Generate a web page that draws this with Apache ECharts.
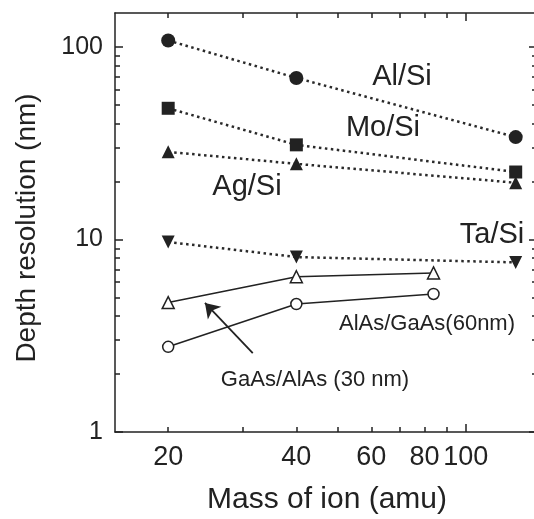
<!DOCTYPE html>
<html><head><meta charset="utf-8">
<script src="https://cdn.jsdelivr.net/npm/echarts@6/dist/echarts.min.js"></script>
<style>html,body{margin:0;padding:0;background:#fff}#c{width:534px;height:519px}</style>
</head><body><div id="c"></div>
<script>
// ---- data ----
const ionMass = [20, 40, 131];
const ionMassGaAs = [20, 40, 84];
const alSi = [108, 69, 34];
const moSi = [48, 31, 22.4];
const agSi = [28.5, 24.7, 19.7];
const taSi = [9.7, 8.1, 7.6];
const gaAsAlAs30 = [4.7, 6.4, 6.7];
const alAsGaAs60 = [2.77, 4.62, 5.21];
const xLabelTicks = [20, 40, 60, 80, 100];
const xMinorTicks = [20, 30, 40, 50, 60, 70, 80, 90];
const xMajorTicks = [100];
const yLabelTicks = [1, 10, 100];
const yMinorTicks = [2, 3, 4, 5, 6, 7, 8, 9, 20, 30, 40, 50, 60, 70, 80, 90];
const yMajorTicks = [1, 10, 100];
const arrowFrom = [31.6, 2.57];
const arrowTo = [24.4, 4.68];

const INK = '#222';
const FONT = '"Liberation Sans", Arial, Helvetica, sans-serif';
const XMIN = 15, XMAX = 147, YMIN = 1, YMAX = 150;

function pairs(xs, ys) { return xs.map((x, i) => [x, ys[i]]); }

function xAxis(position, ticks, len, labels, showLine) {
  return {
    type: 'log', logBase: 10, min: XMIN, max: XMAX, position: position,
    axisLine: { show: showLine, onZero: false, lineStyle: { color: INK, width: 1.5 } },
    axisTick: { show: true, inside: true, length: len, customValues: ticks, lineStyle: { color: INK, width: 1.5 } },
    minorTick: { show: false },
    axisLabel: labels ? { show: true, customValues: labels, color: INK, fontSize: 27, fontFamily: FONT, margin: 12, hideOverlap: false } : { show: false },
    splitLine: { show: false }
  };
}
function yAxis(position, ticks, len, labels, showLine) {
  return {
    type: 'log', logBase: 10, min: YMIN, max: YMAX, position: position,
    axisLine: { show: showLine, onZero: false, lineStyle: { color: INK, width: 1.5 } },
    axisTick: { show: true, inside: true, length: len, customValues: ticks, lineStyle: { color: INK, width: 1.5 } },
    minorTick: { show: false },
    axisLabel: labels ? { show: true, customValues: labels, color: INK, fontSize: 25, fontFamily: FONT, margin: 12 } : { show: false },
    splitLine: { show: false }
  };
}

const dotted = { color: '#2a2a2a', width: 2.5, type: [2.5, 3.5] };
const solid = { color: INK, width: 1.6, type: 'solid' };

const chart = echarts.init(document.getElementById('c'), null, { renderer: 'canvas' });
chart.setOption({
  animation: false,
  backgroundColor: '#fff',
  grid: { left: 115, top: 13, width: 422, height: 419, outerBoundsMode: 'none', containLabel: false },
  xAxis: [
    xAxis('bottom', xMajorTicks, 8, xLabelTicks, true),
    xAxis('bottom', xMinorTicks, 5, null, false),
    xAxis('top', xMajorTicks, 8, null, true),
    xAxis('top', xMinorTicks, 5, null, false)
  ],
  yAxis: [
    yAxis('left', yMajorTicks, 8, yLabelTicks, true),
    yAxis('left', yMinorTicks, 5, null, false),
    yAxis('right', yMajorTicks, 8, null, true),
    yAxis('right', yMinorTicks, 5, null, false)
  ],
  series: [
    { name: 'Al/Si', type: 'line', data: pairs(ionMass, alSi), symbol: 'circle', symbolSize: 14,
      itemStyle: { color: INK }, lineStyle: dotted },
    { name: 'Mo/Si', type: 'line', data: pairs(ionMass, moSi), symbol: 'rect', symbolSize: 13,
      itemStyle: { color: INK }, lineStyle: dotted },
    { name: 'Ag/Si', type: 'line', data: pairs(ionMass, agSi), symbol: 'triangle', symbolSize: 13,
      itemStyle: { color: INK }, lineStyle: dotted },
    { name: 'Ta/Si', type: 'line', data: pairs(ionMass, taSi), symbol: 'triangle', symbolRotate: 180, symbolSize: 13,
      itemStyle: { color: INK }, lineStyle: dotted },
    { name: 'GaAs/AlAs (30 nm)', type: 'line', data: pairs(ionMassGaAs, gaAsAlAs30), symbol: 'triangle', symbolSize: 12,
      showAllSymbol: true,
      itemStyle: { color: '#fff', borderColor: INK, borderWidth: 1.5 }, lineStyle: solid,
      markLine: { silent: true, symbol: ['none', 'arrow'], symbolSize: 14,
        lineStyle: { color: INK, width: 1.8, type: 'solid' }, label: { show: false },
        data: [[{ coord: arrowFrom }, { coord: arrowTo }]] } },
    { name: 'AlAs/GaAs(60nm)', type: 'line', data: pairs(ionMassGaAs, alAsGaAs60), symbol: 'circle', symbolSize: 11,
      itemStyle: { color: '#fff', borderColor: INK, borderWidth: 1.5 }, lineStyle: solid }
  ],
  graphic: [
    { type: 'text', x: 402, y: 77, style: { text: 'Al/Si', font: '29px ' + FONT, fill: INK, align: 'center', verticalAlign: 'middle' } },
    { type: 'text', x: 383, y: 128, style: { text: 'Mo/Si', font: '29px ' + FONT, fill: INK, align: 'center', verticalAlign: 'middle' } },
    { type: 'text', x: 247, y: 187, style: { text: 'Ag/Si', font: '29px ' + FONT, fill: INK, align: 'center', verticalAlign: 'middle' } },
    { type: 'text', x: 492, y: 235, style: { text: 'Ta/Si', font: '29px ' + FONT, fill: INK, align: 'center', verticalAlign: 'middle' } },
    { type: 'text', x: 427, y: 324, style: { text: 'AlAs/GaAs(60nm)', font: '22px ' + FONT, fill: INK, align: 'center', verticalAlign: 'middle' } },
    { type: 'text', x: 315, y: 380, style: { text: 'GaAs/AlAs (30 nm)', font: '22px ' + FONT, fill: INK, align: 'center', verticalAlign: 'middle' } },
    { type: 'text', x: 327, y: 500, style: { text: 'Mass of ion (amu)', font: '30px ' + FONT, fill: INK, align: 'center', verticalAlign: 'middle' } },
    { type: 'text', x: 27, y: 228, rotation: Math.PI / 2, style: { text: 'Depth resolution (nm)', font: '28px ' + FONT, fill: INK, align: 'center', verticalAlign: 'middle' } }
  ]
});
</script></body></html>
